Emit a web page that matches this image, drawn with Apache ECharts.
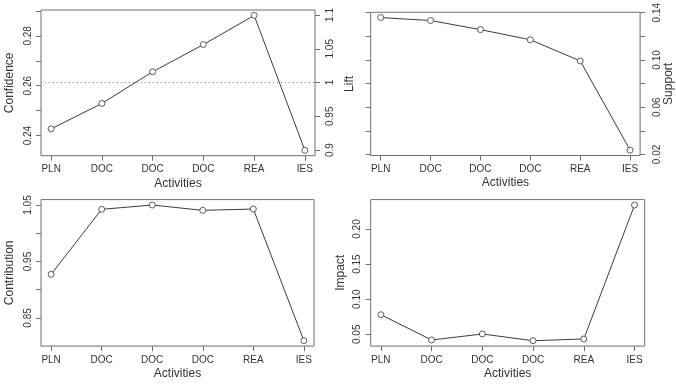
<!DOCTYPE html>
<html>
<head>
<meta charset="utf-8">
<script src="https://cdn.jsdelivr.net/npm/echarts@6/dist/echarts.min.js"></script>
<style>
  html, body { margin: 0; padding: 0; background: #fff; }
  #chart { width: 676px; height: 386px; }
</style>
</head>
<body>
<div id="chart"></div>
<script>
// data
const activities = ["PLN", "DOC", "DOC", "DOC", "REA", "IES"];
const confidence = [0.2427, 0.2529, 0.2656, 0.2765, 0.2882, 0.2341];
const support = [0.1359, 0.1334, 0.1257, 0.1171, 0.0992, 0.0236];
const contribution = [0.9273, 1.0424, 1.0500, 1.0406, 1.0429, 0.8098];
const impact = [0.0779, 0.0419, 0.0504, 0.0409, 0.0433, 0.2342];

// tick positions and labels
const xTicks = [1, 2, 3, 4, 5, 6];
const confTicks = [0.24, 0.25, 0.26, 0.27, 0.28, 0.29];
const confLabels = [0.24, 0.26, 0.28];
const liftTicks = [0.9, 0.95, 1, 1.05, 1.1];
const liftRange = [0.8916, 1.1074];
const liftRef = 1;
const suppTicks = [0.02, 0.04, 0.06, 0.08, 0.10, 0.12, 0.14];
const suppLabels = [0.02, 0.06, 0.10, 0.14];
const contTicks = [0.85, 0.90, 0.95, 1.00, 1.05];
const contLabels = [0.85, 0.95, 1.05];
const impTicks = [0.05, 0.10, 0.15, 0.20];

const FONT = "Liberation Sans";
const TXT = "#333333";
const BOX = "#707070";
const LINE = "#3c3c3c";

// R style axis range: data range plus 4%
function pad(arr) {
  const lo = Math.min(...arr), hi = Math.max(...arr);
  const r = hi - lo;
  return [lo - 0.04 * r, hi + 0.04 * r];
}
function pts(vals) {
  return vals.map((v, i) => [i + 1, v]);
}

const grids = [
  { left: 41, top: 10, width: 274, height: 145.7 },
  { left: 370.7, top: 10, width: 274, height: 145.5 },
  { left: 41, top: 199.6, width: 273, height: 146.5 },
  { left: 370.7, top: 199.6, width: 274, height: 146.5 }
].map(g => Object.assign(g, { show: true, borderColor: BOX, borderWidth: 1, backgroundColor: "transparent" }));

const xAxes = [0, 1, 2, 3].map(i => ({
  type: "value", gridIndex: i, min: 0.8, max: 6.2,
  name: "Activities", nameLocation: "middle", nameGap: 21.5,
  nameTextStyle: { fontFamily: FONT, fontSize: 12, color: TXT },
  axisLine: { show: false }, splitLine: { show: false },
  axisTick: { show: true, inside: false, length: 5, customValues: xTicks, lineStyle: { color: BOX } },
  axisLabel: { customValues: xTicks, margin: 9, fontFamily: FONT, fontSize: 10, color: TXT,
    formatter: v => activities[Math.round(v) - 1] }
}));

function yAxis(grid, pos, range, ticks, labels, fmt, name, nameGap, margin) {
  return {
    type: "value", gridIndex: grid, position: pos, min: range[0], max: range[1],
    name: name, nameLocation: "middle", nameGap: nameGap, nameRotate: 90,
    nameTextStyle: { fontFamily: FONT, fontSize: 12, color: TXT },
    axisLine: { show: false }, splitLine: { show: false },
    axisTick: { show: true, inside: false, length: 5, customValues: ticks, lineStyle: { color: BOX } },
    axisLabel: { show: labels.length > 0, customValues: labels, rotate: 90, margin: margin,
      fontFamily: FONT, fontSize: 10, color: TXT, formatter: fmt }
  };
}

const yAxes = [
  yAxis(0, "left", pad(confidence), confTicks, confLabels, v => v.toFixed(2), "Confidence", 25, 8),
  yAxis(0, "right", liftRange, liftTicks, liftTicks, v => String(+v.toFixed(2)), "", 0, 10),
  yAxis(1, "left", pad(support), suppTicks, [], null, "Lift", 15, 8),
  yAxis(1, "right", pad(support), suppTicks, suppLabels, v => v.toFixed(2), "Support", 21, 12),
  yAxis(2, "left", pad(contribution), contTicks, contLabels, v => v.toFixed(2), "Contribution", 25, 8),
  yAxis(3, "left", pad(impact), impTicks, impTicks, v => v.toFixed(2), "Impact", 24, 8)
];

function lineSeries(x, y, vals) {
  return {
    type: "line", xAxisIndex: x, yAxisIndex: y, data: pts(vals),
    symbol: "circle", symbolSize: 6, showSymbol: true,
    lineStyle: { color: LINE, width: 1 },
    itemStyle: { color: "#fff", borderColor: "#4a4a4a", borderWidth: 0.9 },
    emphasis: { disabled: true }
  };
}

const chart = echarts.init(document.getElementById("chart"), null, { renderer: "canvas" });
chart.setOption({
  animation: false,
  backgroundColor: "#fff",
  grid: grids,
  xAxis: xAxes,
  yAxis: yAxes,
  series: [
    {
      type: "line", xAxisIndex: 0, yAxisIndex: 1, data: [],
      markLine: {
        silent: true, symbol: "none", label: { show: false },
        lineStyle: { color: "#888", type: [1, 3], width: 1 },
        data: [{ yAxis: liftRef }]
      }
    },
    lineSeries(0, 0, confidence),
    lineSeries(1, 3, support),
    lineSeries(2, 4, contribution),
    lineSeries(3, 5, impact)
  ]
});
</script>
</body>
</html>
